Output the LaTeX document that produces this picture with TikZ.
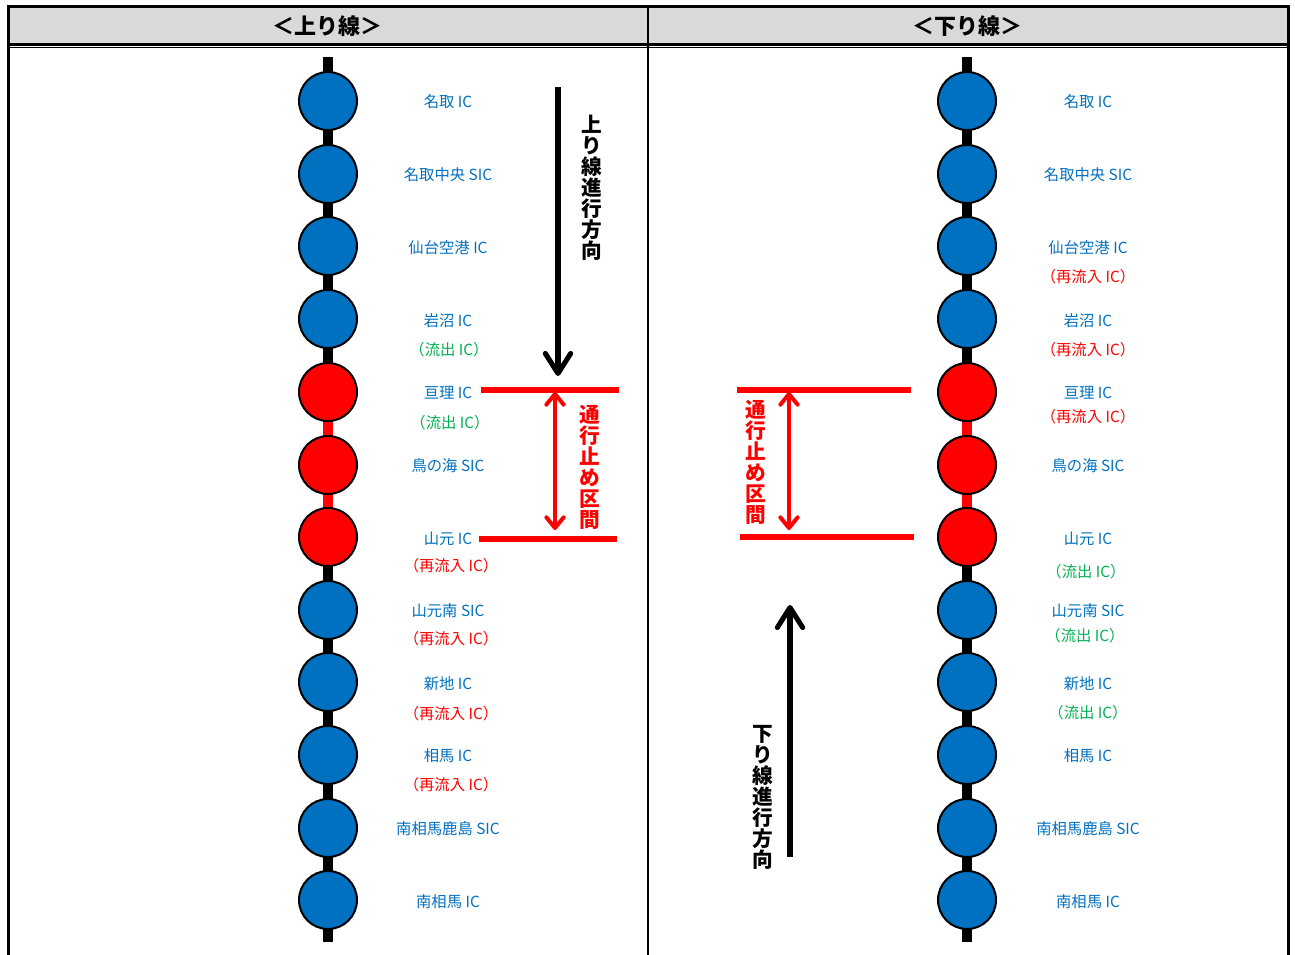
\documentclass[tikz,border=0pt]{standalone}
\usepackage{fontspec}
\setmainfont{Noto Sans CJK JP}
\usetikzlibrary{arrows.meta, backgrounds}
\definecolor{RouteBlue}{RGB}{0, 112, 192}
\definecolor{ExitGreen}{RGB}{0, 176, 80}
\definecolor{StopRed}{RGB}{255, 0, 0}
\definecolor{HeadGray}{RGB}{217, 217, 217}
\tikzset{
  ic/.style={circle, draw=black, line width=1.5pt, minimum size=43.5pt, inner sep=0pt},
  track/.style={line width=7.5pt},
  icname/.style={RouteBlue, font=\fontsize{11.5}{13}\selectfont},
  exitnote/.style={ExitGreen, font=\fontsize{11.5}{13}\selectfont},
  reentry/.style={StopRed, font=\fontsize{11.5}{13}\selectfont},
  headtext/.style={font=\bfseries\fontsize{16.5}{18}\selectfont},
  vtext/.style={align=center, inner sep=0pt, font=\bfseries\fontsize{15.5}{15.75}\selectfont},
  dirarrow/.style={line width=3.8pt, -{Straight Barb[round, length=15pt, width=19pt]}},
  stoparrow/.style={StopRed, line width=3pt, {Straight Barb[round, length=8pt, width=13pt]}-{Straight Barb[round, length=8pt, width=13pt]}},
  stopline/.style={StopRed, line width=3.8pt}
}
\begin{document}
\begin{tikzpicture}[x=0.75pt, y=-0.75pt]
    \useasboundingbox (0,0) rectangle (1295,955);

    % Header
    \fill[HeadGray] (8,7) rectangle (1289,43);
    \draw[line width=1.8pt] (8,44.5) -- (1289,44.5);
    \draw[line width=0.8pt] (8,47.2) -- (1289,47.2);
    \draw[line width=2.2pt] (8.5,955) -- (8.5,6.5) -- (1288.5,6.5) -- (1288.5,955);
    \draw[line width=2.2pt] (648,6.5) -- (648,955);
    \node[headtext] (uphead) at (327,26) {＜上り線＞};
    \node[headtext] (downhead) at (967,26) {＜下り線＞};

    % Interchanges
    \foreach \i/\y/\c in {1/101/RouteBlue, 2/174/RouteBlue, 3/246/RouteBlue, 4/319/RouteBlue,
                          5/392/StopRed, 6/465/StopRed, 7/537/StopRed, 8/610/RouteBlue,
                          9/682/RouteBlue, 10/755/RouteBlue, 11/828/RouteBlue, 12/900/RouteBlue} {
        \node[ic, fill=\c] (u\i) at (328,\y) {};
        \node[ic, fill=\c] (d\i) at (967,\y) {};
    }
    \coordinate (utop) at (328,57);
    \coordinate (ubot) at (328,942);
    \coordinate (dtop) at (967,57);
    \coordinate (dbot) at (967,942);
    \begin{scope}[on background layer]
        \draw[track] (utop) -- (ubot);
        \draw[track, StopRed] (u5) -- (u7);
        \draw[track] (dtop) -- (dbot);
        \draw[track, StopRed] (d5) -- (d7);
    \end{scope}

    % Up line labels
    \node[icname] (uname1) at (448,102) {名取 IC};
    \node[icname] (uname2) at (448,175) {名取中央 SIC};
    \node[icname] (uname3) at (448,248) {仙台空港 IC};
    \node[icname] (uname4) at (448,321) {岩沼 IC};
    \node[exitnote] (unote4) at (449,350) {（流出 IC）};
    \node[icname] (uname5) at (448,393) {亘理 IC};
    \node[exitnote] (unote5) at (450,423) {（流出 IC）};
    \node[icname] (uname6) at (448,466) {鳥の海 SIC};
    \node[icname] (uname7) at (448,539) {山元 IC};
    \node[reentry] (unote7) at (451,566) {（再流入 IC）};
    \node[icname] (uname8) at (448,611) {山元南 SIC};
    \node[reentry] (unote8) at (451,639) {（再流入 IC）};
    \node[icname] (uname9) at (448,684) {新地 IC};
    \node[reentry] (unote9) at (451,714) {（再流入 IC）};
    \node[icname] (uname10) at (448,756) {相馬 IC};
    \node[reentry] (unote10) at (451,785) {（再流入 IC）};
    \node[icname] (uname11) at (448,829) {南相馬鹿島 SIC};
    \node[icname] (uname12) at (448,902) {南相馬 IC};

    % Down line labels
    \node[icname] (dname1) at (1088,102) {名取 IC};
    \node[icname] (dname2) at (1088,175) {名取中央 SIC};
    \node[icname] (dname3) at (1088,248) {仙台空港 IC};
    \node[reentry] (dnote3) at (1088,277) {（再流入 IC）};
    \node[icname] (dname4) at (1088,321) {岩沼 IC};
    \node[reentry] (dnote4) at (1088,350) {（再流入 IC）};
    \node[icname] (dname5) at (1088,393) {亘理 IC};
    \node[reentry] (dnote5) at (1088,417) {（再流入 IC）};
    \node[icname] (dname6) at (1088,466) {鳥の海 SIC};
    \node[icname] (dname7) at (1088,539) {山元 IC};
    \node[exitnote] (dnote7) at (1086,572) {（流出 IC）};
    \node[icname] (dname8) at (1088,611) {山元南 SIC};
    \node[exitnote] (dnote8) at (1085,636) {（流出 IC）};
    \node[icname] (dname9) at (1088,684) {新地 IC};
    \node[exitnote] (dnote9) at (1088,713) {（流出 IC）};
    \node[icname] (dname10) at (1088,756) {相馬 IC};
    \node[icname] (dname11) at (1088,829) {南相馬鹿島 SIC};
    \node[icname] (dname12) at (1088,902) {南相馬 IC};

    % Closed section, up line
    \coordinate (uclosea) at (481,390);
    \coordinate (uclosea') at (619,390);
    \coordinate (ucloseb) at (479,539);
    \coordinate (ucloseb') at (617,539);
    \draw[stopline] (uclosea) -- (uclosea');
    \draw[stopline] (ucloseb) -- (ucloseb');
    \coordinate (ustopa) at (555,392);
    \coordinate (ustopb) at (555,530);
    \draw[stoparrow] (ustopa) -- (ustopb);
    \node[vtext, StopRed] (uclosed) at (590,467) {通\\行\\止\\め\\区\\間};

    % Closed section, down line
    \coordinate (dclosea) at (737,390);
    \coordinate (dclosea') at (911,390);
    \coordinate (dcloseb) at (740,537);
    \coordinate (dcloseb') at (914,537);
    \draw[stopline] (dclosea) -- (dclosea');
    \draw[stopline] (dcloseb) -- (dcloseb');
    \coordinate (dstopa) at (789,392);
    \coordinate (dstopb) at (789,530);
    \draw[stoparrow] (dstopa) -- (dstopb);
    \node[vtext, StopRed] (dclosed) at (756,462) {通\\行\\止\\め\\区\\間};

    % Travel direction
    \coordinate (udira) at (558,87);
    \coordinate (udirb) at (558,376);
    \draw[dirarrow] (udira) -- (udirb);
    \node[vtext] (udir) at (592,188) {上\\り\\線\\進\\行\\方\\向};
    \coordinate (ddira) at (790,857);
    \coordinate (ddirb) at (790,605);
    \draw[dirarrow] (ddira) -- (ddirb);
    \node[vtext] (ddir) at (763,797) {下\\り\\線\\進\\行\\方\\向};
\end{tikzpicture}
\end{document}
